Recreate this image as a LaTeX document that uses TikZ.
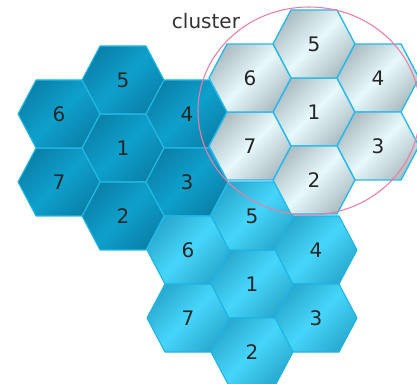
\documentclass[tikz,border=0pt]{standalone}
\usepackage{fontspec}
\setmainfont{DejaVu Sans}
\definecolor{deepend}{HTML}{0A82AA}
\definecolor{deepmid}{HTML}{0EA0CC}
\definecolor{deepedge}{HTML}{22BAE6}
\definecolor{skyend}{HTML}{2AAAD0}
\definecolor{skymid}{HTML}{46D6FA}
\definecolor{skyedge}{HTML}{1CB6E6}
\definecolor{paleend}{HTML}{AEBEC2}
\definecolor{palemid}{HTML}{E8F9FE}
\definecolor{paleedge}{HTML}{22BAEE}
\definecolor{ringpink}{HTML}{F07CA2}
\newcommand\hexcell[5]{%
  \shadedraw[#1,shift={(#4,#5)}] (-41,0) -- (-23,-34) -- (23,-34) -- (41,0) -- (23,34) -- (-23,34) -- cycle;
  \node[num] (#2-#3) at (#4,#5) {#3};}
\begin{document}
\begin{tikzpicture}[x=0.75pt,y=-0.75pt,
  deepcell/.style={draw=deepedge,line width=0.8pt,top color=deepend,bottom color=deepend,middle color=deepmid,shading angle=45},
  skycell/.style={draw=skyedge,line width=0.8pt,top color=skyend,bottom color=skyend,middle color=skymid,shading angle=45},
  palecell/.style={draw=paleedge,line width=1pt,top color=paleend,bottom color=paleend,middle color=palemid,shading angle=45},
  num/.style={font=\fontsize{15}{15}\selectfont,text=black!85},
  ring/.style={draw=ringpink,line width=0.8pt}]
   \useasboundingbox (0,0) rectangle (417,384);
   \foreach \n/\dx/\dy in {1/0/0,5/0/-68,4/64/-34,3/64/34,2/0/68,7/-64/34,6/-64/-34} {
    \hexcell{deepcell}{L}{\n}{123+\dx}{148+\dy}
   }
   \foreach \n/\dx/\dy in {1/0/0,5/0/-68,4/64/-34,3/64/34,2/0/68,7/-64/34,6/-64/-34} {
    \hexcell{skycell}{D}{\n}{252+\dx}{284+\dy}
   }
   \foreach \n/\dx/\dy in {1/0/0,5/0/-68,4/64/-34,3/64/34,2/0/68,7/-64/34,6/-64/-34} {
    \hexcell{palecell}{R}{\n}{314+\dx}{112+\dy}
   }
   \draw[ring] (309,111) ellipse [x radius=111, y radius=104];
   \node[num,text=black!80] (lbl) at (206,21) {cluster};
  \end{tikzpicture}
\end{document}
